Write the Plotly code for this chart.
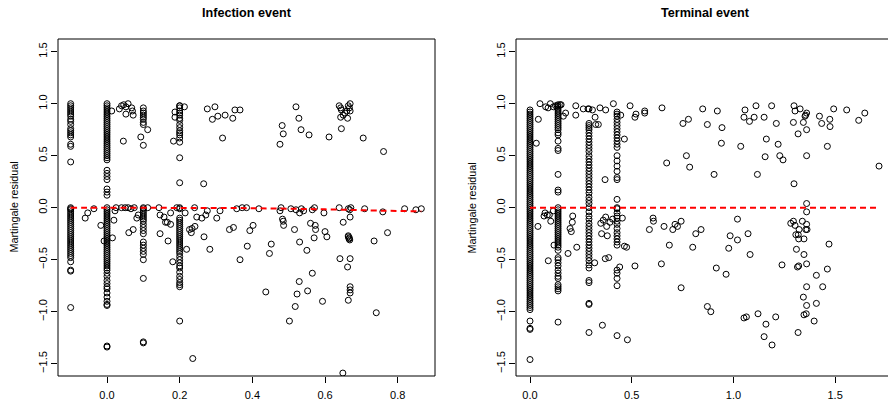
import plotly.graph_objects as go

# ---------------- Infection event (left panel) ----------------
inf_col_x = [-0.1, 0.0, 0.1, 0.2]
inf_col_y = [
    [1.0, 0.98, 0.96, 0.94, 0.92, 0.9, 0.88, 0.85, 0.83, 0.8, 0.76, 0.74, 0.72, 0.7, 0.68, 0.61, 0.59, 0.44,
     0, -0.01, -0.02, -0.04, -0.06, -0.08, -0.1, -0.12, -0.14, -0.16, -0.18, -0.2, -0.22, -0.24, -0.26, -0.28,
     -0.3, -0.32, -0.34, -0.36, -0.38, -0.4, -0.42, -0.44, -0.46, -0.48, -0.52, -0.6, -0.61, -0.96],
    [1.0, 0.98, 0.96, 0.94, 0.92, 0.9, 0.88, 0.86, 0.84, 0.82, 0.8, 0.78, 0.76, 0.74, 0.72, 0.7, 0.68, 0.66,
     0.64, 0.62, 0.6, 0.58, 0.56, 0.54, 0.52, 0.5, 0.48, 0.46, 0.36, 0.33, 0.3, 0.27, 0.18, 0.15, 0.12,
     0, -0.02, -0.04, -0.06, -0.08, -0.1, -0.12, -0.14, -0.16, -0.18, -0.2, -0.22, -0.24, -0.26, -0.28, -0.3,
     -0.32, -0.34, -0.36, -0.38, -0.4, -0.42, -0.44, -0.46, -0.48, -0.5, -0.52, -0.54, -0.56, -0.58, -0.6,
     -0.63, -0.66, -0.7, -0.73, -0.76, -0.78, -0.82, -0.86, -0.9, -0.93, -0.94, -1.33, -1.34],
    [0.96, 0.93, 0.91, 0.89, 0.87, 0.85, 0.82, 0.8, 0.6,
     0, -0.01, -0.03, -0.05, -0.07, -0.09, -0.11, -0.13, -0.16, -0.19, -0.22, -0.25, -0.33, -0.36, -0.39,
     -0.42, -0.45, -0.5, -0.68, -1.29, -1.3],
    [0.98, 0.96, 0.93, 0.91, 0.89, 0.86, 0.84, 0.8, 0.77, 0.74, 0.72, 0.7, 0.67, 0.63, 0.48, 0.24,
     0, -0.01, -0.1, -0.12, -0.14, -0.16, -0.18, -0.2, -0.22, -0.24, -0.26, -0.28, -0.3, -0.32, -0.34, -0.36,
     -0.38, -0.4, -0.42, -0.44, -0.47, -0.5, -0.53, -0.56, -0.58, -0.62, -0.66, -0.69, -0.72, -0.74, -0.76, -1.09],
]
inf_upper_pts = [
    (0.013, 0.93), (0.034, 0.95), (0.040, 0.98), (0.046, 0.99), (0.052, 0.97), (0.058, 1.0), (0.068, 0.96),
    (0.052, 0.90), (0.07, 0.93), (0.072, 0.89), (0.045, 0.64), (0.093, 0.68), (0.112, 0.75), (0.183, 0.64),
    (0.187, 0.92), (0.187, 0.87), (0.213, 0.97), (0.2, 0.98), (0.276, 0.95), (0.297, 0.97), (0.29, 0.85),
    (0.305, 0.88), (0.325, 0.89), (0.346, 0.86), (0.352, 0.94), (0.366, 0.94), (0.318, 0.67), (0.266, 0.23),
    (0.476, 0.61), (0.482, 0.79), (0.485, 0.71), (0.52, 0.97), (0.528, 0.86), (0.534, 0.75), (0.556, 0.70),
    (0.611, 0.68), (0.705, 0.67), (0.761, 0.54), (0.639, 0.98), (0.643, 0.96), (0.645, 0.94), (0.655, 0.91),
    (0.66, 0.93), (0.664, 0.98), (0.667, 0.96), (0.669, 1.0), (0.669, 0.93), (0.662, 0.86), (0.643, 0.87),
    (0.65, 0.89), (0.645, 0.76),
]
inf_lower_pts = [
    (-0.06, -0.1), (-0.053, -0.05), (-0.036, -0.01), (-0.017, -0.17), (-0.008, -0.32), (0.015, -0.29),
    (0.019, -0.12), (0.022, -0.03), (0.025, 0), (0.04, 0), (0.05, 0), (0.058, 0), (0.066, -0.01), (0.075, 0),
    (0.06, -0.24), (0.072, -0.21), (0.082, -0.1), (0.086, -0.07), (0.112, 0), (0.143, 0), (0.146, -0.07),
    (0.146, -0.25), (0.157, -0.09), (0.161, -0.14), (0.166, -0.14), (0.168, -0.32), (0.175, -0.05),
    (0.175, -0.16), (0.181, -0.52), (0.192, 0), (0.215, -0.05), (0.219, -0.40), (0.227, -0.21), (0.232, -0.24),
    (0.234, -0.2), (0.241, 0), (0.242, -0.18), (0.247, -0.09), (0.261, -0.1), (0.267, -0.28), (0.272, -0.07),
    (0.276, -0.03), (0.283, -0.4), (0.236, -1.45), (0.302, -0.1), (0.311, -0.03), (0.337, -0.21), (0.348, -0.19),
    (0.357, -0.01), (0.366, -0.5), (0.372, 0), (0.384, 0), (0.386, -0.37), (0.393, -0.22), (0.402, -0.17),
    (0.418, -0.01), (0.437, -0.81), (0.447, -0.44), (0.452, -0.35), (0.476, -0.03), (0.479, 0), (0.483, -0.11),
    (0.485, -0.13), (0.486, -0.17), (0.502, -1.09), (0.506, -0.01), (0.516, -0.21), (0.518, -0.95), (0.52, -0.02),
    (0.523, -0.83), (0.529, -0.71), (0.53, -0.05), (0.53, -0.33), (0.535, -0.01), (0.541, -0.03), (0.55, -0.41),
    (0.552, -0.8), (0.56, -0.15), (0.565, -0.02), (0.565, -0.63), (0.57, -0.29), (0.571, 0), (0.573, -0.17),
    (0.574, -0.21), (0.593, -0.9), (0.597, -0.05), (0.6, -0.23), (0.605, -0.28), (0.639, 0), (0.641, -0.49),
    (0.65, -0.14), (0.649, -1.59), (0.662, -0.57), (0.664, -0.89), (0.664, -0.28), (0.666, -0.3), (0.668, -0.31),
    (0.664, -0.27), (0.667, -0.29), (0.669, -0.49), (0.669, -0.76), (0.669, -0.79), (0.669, -0.82), (0.669, -0.09),
    (0.664, -0.01), (0.668, -0.02), (0.671, 0), (0.709, -0.01), (0.735, -0.32), (0.741, -1.01), (0.759, -0.04),
    (0.772, -0.24), (0.819, -0.01), (0.85, -0.02), (0.865, -0.01),
]
inf_smooth_x = [-0.1, 0.0, 0.2, 0.4, 0.6, 0.76, 0.865]
inf_smooth_y = [0.0, 0.0, -0.002, -0.005, -0.016, -0.029, -0.035]

# ---------------- Terminal event (right panel) ----------------
ter_col_x = [0.0, 0.138, 0.29, 0.428]
ter_col_y = [
    [0.94, 0.92, 0.9, 0.88, 0.86, 0.84, 0.82, 0.8, 0.78, 0.76, 0.74, 0.72, 0.7, 0.68, 0.66, 0.64, 0.62, 0.6,
     0.58, 0.56, 0.54, 0.52, 0.5, 0.48, 0.46, 0.44, 0.42, 0.4, 0.38, 0.36, 0.34, 0.32, 0.3, 0.28, 0.26, 0.24,
     0.22, 0.2, 0.18, 0.16, 0.14, 0.12, 0.1, 0.08, 0.06, 0.04, 0.02, 0.0,
     -0.02, -0.04, -0.06, -0.08, -0.1, -0.12, -0.14, -0.16, -0.18, -0.2, -0.22, -0.24, -0.26, -0.28, -0.3,
     -0.32, -0.34, -0.36, -0.38, -0.4, -0.42, -0.44, -0.46, -0.48, -0.5, -0.52, -0.54, -0.56, -0.58, -0.6,
     -0.62, -0.64, -0.66, -0.68, -0.7, -0.72, -0.74, -0.76, -0.78, -0.8, -0.82, -0.84, -0.86, -0.88, -0.9,
     -0.92, -0.94, -0.96, -0.98, -1.09, -1.16, -1.17, -1.46],
    [0.99, 0.97, 0.95, 0.93, 0.91, 0.89, 0.87, 0.85, 0.83, 0.81, 0.79, 0.77, 0.75, 0.72, 0.7, 0.64, 0.57,
     0.55, 0.32, 0.17, 0.15,
     0, -0.02, -0.04, -0.06, -0.08, -0.1, -0.12, -0.14, -0.16, -0.18, -0.2, -0.22, -0.24, -0.26, -0.28, -0.3,
     -0.32, -0.34, -0.36, -0.38, -0.41, -0.48, -0.5, -0.53, -0.56, -0.6, -0.63, -0.66, -0.68, -0.74, -0.76,
     -0.78, -0.8, -1.1],
    [0.95, 0.81, 0.79, 0.77, 0.75, 0.72, 0.69, 0.66, 0.63, 0.6, 0.57, 0.54, 0.5, 0.47, 0.44, 0.41, 0.38,
     0.35, 0.32, 0.29, 0.26, 0.23, 0.2, 0.17, 0.14, 0.1, 0.07, 0.04,
     0, -0.04, -0.08, -0.11, -0.15, -0.18, -0.21, -0.24, -0.27, -0.3, -0.33, -0.36, -0.39, -0.42, -0.45,
     -0.48, -0.51, -0.55, -0.58, -0.7, -0.72, -0.92, -0.93, -1.2],
    [0.92, 0.9, 0.88, 0.85, 0.82, 0.79, 0.76, 0.73, 0.7, 0.67, 0.64, 0.61, 0.58, 0.5, 0.45, 0.4, 0.35, 0.29,
     0.27, 0.08,
     0, -0.01, -0.05, -0.08, -0.1, -0.13, -0.16, -0.2, -0.24, -0.27, -0.3, -0.33, -0.36, -0.6, -0.63, -0.68,
     -0.75, -1.23],
]
ter_upper_pts = [
    (0.049, 1.0), (0.041, 0.85), (0.031, 0.62), (0.077, 0.97), (0.089, 0.96), (0.1, 1.0), (0.115, 0.97),
    (0.126, 0.98), (0.134, 0.98), (0.148, 0.99), (0.153, 0.99), (0.164, 0.88), (0.175, 0.91), (0.225, 0.98),
    (0.225, 0.89), (0.262, 0.95), (0.285, 0.95), (0.307, 0.94), (0.32, 0.87), (0.323, 0.8), (0.336, 0.8),
    (0.344, 0.96), (0.369, 0.27), (0.372, 0.94), (0.41, 1.0), (0.446, 0.89), (0.464, 0.66), (0.492, 0.98),
    (0.516, 0.87), (0.521, 0.9), (0.564, 0.91), (0.564, 0.93), (0.649, 0.96), (0.672, 0.43), (0.752, 0.81),
    (0.779, 0.85), (0.769, 0.5), (0.785, 0.39), (0.849, 0.95), (0.872, 0.8), (0.905, 0.32), (0.921, 0.93),
    (0.944, 0.77), (0.941, 0.62), (1.036, 0.59), (1.052, 0.87), (1.057, 0.94), (1.079, 0.83), (1.102, 0.87),
    (1.111, 0.98), (1.118, 0.32), (1.151, 0.87), (1.162, 0.66), (1.156, 0.49), (1.188, 0.98), (1.211, 0.81),
    (1.22, 0.61), (1.228, 0.5), (1.244, 0.46), (1.298, 0.23), (1.298, 0.98), (1.295, 0.82), (1.303, 0.93),
    (1.318, 0.71), (1.328, 0.95), (1.344, 0.82), (1.352, 0.88), (1.355, 0.89), (1.36, 0.91), (1.36, 0.75),
    (1.36, 0.5), (1.423, 0.88), (1.434, 0.81), (1.462, 0.59), (1.474, 0.85), (1.475, 0.78), (1.493, 0.95),
    (1.557, 0.94), (1.616, 0.84), (1.646, 0.91), (1.716, 0.4),
]
ter_lower_pts = [
    (0.039, -0.18), (0.069, -0.08), (0.074, -0.05), (0.085, -0.07), (0.095, -0.07), (0.102, -0.13),
    (0.09, -0.51), (0.115, -0.03), (0.118, -0.36), (0.187, -0.44), (0.197, -0.2), (0.203, -0.23), (0.208, -0.14),
    (0.21, -0.08), (0.23, -0.38), (0.318, -0.53), (0.348, -0.15), (0.352, -0.25), (0.356, -1.13), (0.36, -0.12),
    (0.37, -0.49), (0.372, -0.09), (0.377, -0.18), (0.38, -0.27), (0.387, -0.48), (0.393, -0.14), (0.406, -0.11),
    (0.454, -0.1), (0.441, -0.57), (0.464, -0.37), (0.475, -0.38), (0.479, -1.27), (0.516, -0.56), (0.587, -0.21),
    (0.605, -0.1), (0.607, -0.13), (0.646, -0.54), (0.659, -0.18), (0.685, -0.36), (0.702, -0.21), (0.713, -0.16),
    (0.725, -0.18), (0.743, -0.13), (0.743, -0.77), (0.8, -0.38), (0.815, -0.25), (0.841, -0.21), (0.872, -0.95),
    (0.889, -1.0), (0.916, -0.58), (0.964, -0.64), (0.977, -0.39), (0.984, -0.27), (1.02, -0.11), (1.02, -0.31),
    (1.052, -1.06), (1.064, -1.05), (1.072, -0.25), (1.082, -0.45), (1.121, -1.02), (1.151, -1.24), (1.16, -1.12),
    (1.19, -1.32), (1.208, -1.05), (1.239, -0.55), (1.282, -0.15), (1.295, -0.13), (1.303, -0.17), (1.307, -0.26),
    (1.31, -0.4), (1.315, -0.57), (1.321, -0.56), (1.319, -0.26), (1.321, -0.3), (1.323, -0.21), (1.318, -1.2),
    (1.339, -0.13), (1.344, -0.86), (1.347, -1.03), (1.358, -1.02), (1.347, -0.3), (1.347, -0.45), (1.356, -0.21),
    (1.36, 0.04), (1.36, -0.04), (1.36, -0.16), (1.362, -0.21), (1.36, -0.54), (1.36, -0.76), (1.36, -0.94),
    (1.397, -1.09), (1.408, -0.92), (1.408, -0.65), (1.439, -0.76), (1.462, -0.59), (1.47, -0.35),
]
ter_smooth_x = [0.0, 0.5, 1.0, 1.5, 1.72]
ter_smooth_y = [0.0, 0.0, 0.0, 0.0, 0.0]

ytick_vals = [-1.5, -1.0, -0.5, 0.0, 0.5, 1.0, 1.5]
ytick_text = ["\u22121.5", "\u22121.0", "\u22120.5", "0.0", "0.5", "1.0", "1.5"]
inf_xticks = [0.0, 0.2, 0.4, 0.6, 0.8]
ter_xticks = [0.0, 0.5, 1.0, 1.5]

FONT = "Liberation Sans, Arial, Helvetica, sans-serif"
W, H = 888, 409

# pixel geometry of the two plot regions
L_x0, L_x1 = 58, 435
R_x0, R_x1 = 516, 888
Y_top, Y_bot = 39, 376


def collect(col_x, col_y, upper, lower):
    xs, ys = [], []
    for cx, cys in zip(col_x, col_y):
        xs += [cx] * len(cys)
        ys += list(cys)
    for px, py in upper + lower:
        xs.append(px)
        ys.append(py)
    return xs, ys


fig = go.Figure()
marker = dict(symbol="circle-open", size=6, color="black", line=dict(width=1, color="black"))

ix, iy = collect(inf_col_x, inf_col_y, inf_upper_pts, inf_lower_pts)
fig.add_trace(go.Scatter(x=ix, y=iy, mode="markers", marker=marker, xaxis="x", yaxis="y",
                         showlegend=False, hoverinfo="skip"))
fig.add_trace(go.Scatter(x=inf_smooth_x, y=inf_smooth_y, mode="lines", xaxis="x", yaxis="y",
                         line=dict(color="red", width=2, dash="6px,4px", shape="spline"),
                         showlegend=False, hoverinfo="skip"))

tx, ty = collect(ter_col_x, ter_col_y, ter_upper_pts, ter_lower_pts)
fig.add_trace(go.Scatter(x=tx, y=ty, mode="markers", marker=marker, xaxis="x2", yaxis="y2",
                         showlegend=False, hoverinfo="skip"))
fig.add_trace(go.Scatter(x=ter_smooth_x, y=ter_smooth_y, mode="lines", xaxis="x2", yaxis="y2",
                         line=dict(color="red", width=2, dash="6px,4px"),
                         showlegend=False, hoverinfo="skip"))

ydom = [1 - Y_bot / H, 1 - Y_top / H]
common_ax = dict(showgrid=False, zeroline=False, showline=False, ticks="outside", ticklen=6,
                 tickwidth=1, tickcolor="black", automargin=False,
                 tickfont=dict(family=FONT, size=11, color="black"))

# left x: 0 at px 107, 0.2 per 72.7 px
lx_scale = 363.4
l_range = [(L_x0 - 107) / lx_scale, (L_x1 - 107) / lx_scale]
rx_scale = 203.4
r_range = [(R_x0 - 530) / rx_scale, (R_x1 - 530) / rx_scale]
y_scale = 104.0
y_range = [(207.7 - Y_bot) / y_scale, (207.7 - Y_top) / y_scale]

fig.update_layout(
    width=W, height=H,
    margin=dict(l=0, r=0, t=0, b=0, pad=0, autoexpand=False),
    paper_bgcolor="white", plot_bgcolor="white",
    font=dict(family=FONT, color="black"),
    xaxis=dict(domain=[L_x0 / W, L_x1 / W], range=l_range, tickvals=inf_xticks,
               ticktext=["0.0", "0.2", "0.4", "0.6", "0.8"], anchor="y", ticklabelstandoff=3, **common_ax),
    yaxis=dict(domain=ydom, range=y_range, tickvals=ytick_vals, ticktext=ytick_text,
               tickangle=-90, anchor="x", **common_ax),
    xaxis2=dict(domain=[R_x0 / W, R_x1 / W], range=r_range, tickvals=ter_xticks,
                ticktext=["0.0", "0.5", "1.0", "1.5"], anchor="y2", ticklabelstandoff=3, **common_ax),
    yaxis2=dict(domain=ydom, range=y_range, tickvals=ytick_vals, ticktext=ytick_text,
                tickangle=-90, anchor="x2", **common_ax),
)

# plot-region boxes
line_style = dict(color="black", width=1)
for xr, yr, sides in [("x domain", "y domain", "ltrb"), ("x2 domain", "y2 domain", "ltb")]:
    if "l" in sides:
        fig.add_shape(type="line", xref=xr, yref=yr, x0=0, x1=0, y0=0, y1=1, line=line_style)
    if "r" in sides:
        fig.add_shape(type="line", xref=xr, yref=yr, x0=1, x1=1, y0=0, y1=1, line=line_style)
    if "t" in sides:
        fig.add_shape(type="line", xref=xr, yref=yr, x0=0, x1=1, y0=1, y1=1, line=line_style)
    if "b" in sides:
        fig.add_shape(type="line", xref=xr, yref=yr, x0=0, x1=1, y0=0, y1=0, line=line_style)

# titles
fig.add_annotation(text="<b>Infection event</b>", x=(L_x0 + L_x1) / 2 / W, y=1 - 13 / H,
                   xref="paper", yref="paper", showarrow=False, xanchor="center", yanchor="middle",
                   font=dict(family=FONT, size=12.6, color="black"))
fig.add_annotation(text="<b>Terminal event</b>", x=705 / W, y=1 - 13 / H,
                   xref="paper", yref="paper", showarrow=False, xanchor="center", yanchor="middle",
                   font=dict(family=FONT, size=12.6, color="black"))
# y-axis titles
for xc in (13, 471):
    fig.add_annotation(text="Martingale residual", x=xc / W, y=1 - 207.5 / H, xref="paper", yref="paper",
                       showarrow=False, textangle=-90, xanchor="center", yanchor="middle",
                       font=dict(family=FONT, size=10.8, color="black"))

fig.write_html("out.html", config={"displayModeBar": False},
               post_script="document.body.style.margin='0';document.body.style.overflow='hidden';")
